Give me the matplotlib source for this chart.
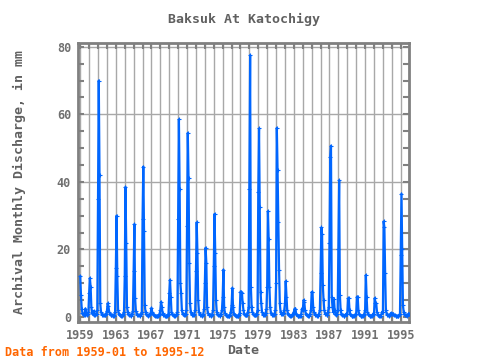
import matplotlib
matplotlib.use("Agg")
import matplotlib.pyplot as plt
from matplotlib.ticker import MultipleLocator
import numpy as np

title = "Baksuk At Katochigy"
ylabel = "Archival Monthly Discharge, in mm"
xlabel = "Date"
footer = "Data from 1959-01 to 1995-12"
start_year = 1959
end_year = 1995
tick_years = [1959, 1963, 1967, 1971, 1975, 1979, 1983, 1987, 1991, 1995]
y_ticks = [0, 20, 40, 60, 80]

# monthly discharge, one row per year (Jan..Dec)
discharge_mm = [
    12.0, 6.5, 2.5, 1.2, 0.8, 0.5, 0.6, 2.5, 1.0, 0.6, 0.9, 1.5,    # 1959
    7.0, 11.5, 9.0, 3.0, 1.2, 0.8, 1.8, 0.7, 0.5, 1.0, 0.8, 2.0,    # 1960
    35.0, 70.0, 42.0, 4.0, 1.5, 0.9, 0.7, 0.6, 0.5, 0.5, 0.7, 1.0,  # 1961
    1.8, 4.0, 3.2, 1.5, 1.0, 0.7, 0.6, 0.5, 0.4, 0.4, 0.6, 1.5,     # 1962
    14.5, 30.0, 12.0, 2.0, 1.0, 0.6, 0.5, 0.4, 0.4, 0.5, 0.9, 1.5,  # 1963
    12.0, 38.5, 22.0, 3.0, 1.5, 0.8, 0.6, 0.5, 0.4, 0.6, 1.0, 1.8,  # 1964
    13.5, 27.5, 5.5, 1.8, 1.0, 0.7, 0.5, 0.5, 0.4, 0.5, 0.8, 1.5,   # 1965
    29.0, 44.5, 25.5, 3.5, 1.5, 0.8, 0.6, 0.5, 0.4, 0.5, 0.8, 1.2,  # 1966
    2.7, 1.5, 1.0, 0.7, 0.5, 0.4, 0.4, 0.3, 0.3, 0.4, 0.6, 1.0,     # 1967
    2.0, 4.5, 3.0, 1.2, 0.7, 0.5, 0.4, 0.4, 0.3, 0.4, 0.6, 1.0,     # 1968
    7.0, 11.0, 6.0, 1.5, 0.8, 0.6, 0.5, 0.4, 0.4, 0.5, 0.8, 1.5,    # 1969
    29.0, 58.5, 38.0, 10.0, 7.0, 2.0, 1.0, 0.8, 0.6, 0.7, 1.0, 2.0, # 1970
    27.0, 54.5, 41.0, 16.0, 4.0, 1.5, 0.8, 0.6, 0.5, 0.6, 1.0, 2.0, # 1971
    13.5, 28.0, 19.0, 5.0, 1.5, 0.8, 0.6, 0.5, 0.4, 0.5, 1.0, 2.5,  # 1972
    10.0, 20.5, 16.0, 3.0, 1.2, 0.7, 0.5, 0.5, 0.4, 0.5, 0.9, 2.0,  # 1973
    15.0, 30.5, 19.0, 5.0, 1.5, 0.8, 0.6, 0.5, 0.4, 0.5, 1.0, 2.0,  # 1974
    6.0, 14.0, 3.0, 1.2, 0.7, 0.5, 0.4, 0.4, 0.3, 0.4, 0.7, 1.5,    # 1975
    3.5, 8.6, 3.0, 1.0, 0.6, 0.5, 0.4, 0.3, 0.3, 0.4, 0.6, 1.2,     # 1976
    7.5, 7.5, 7.0, 4.0, 2.0, 1.0, 0.7, 0.6, 0.5, 0.6, 1.5, 3.0,     # 1977
    38.0, 77.5, 9.0, 3.0, 1.5, 1.0, 0.7, 0.6, 0.5, 0.6, 1.0, 2.0,   # 1978
    37.0, 55.8, 32.5, 7.5, 4.0, 1.5, 1.0, 0.7, 0.6, 0.7, 1.2, 2.5,  # 1979
    9.0, 31.3, 23.0, 9.0, 3.0, 1.2, 0.8, 0.6, 0.5, 0.6, 1.0, 2.0,   # 1980
    10.0, 56.0, 43.5, 28.0, 14.0, 4.0, 1.5, 1.0, 0.8, 0.8, 1.2, 2.0,# 1981
    4.0, 10.6, 6.0, 2.0, 1.0, 0.7, 0.5, 0.4, 0.4, 0.5, 0.7, 1.0,    # 1982
    1.5, 2.5, 2.5, 1.0, 0.6, 0.4, 0.3, 0.3, 0.3, 0.4, 1.0, 2.5,     # 1983
    2.0, 5.0, 4.5, 2.0, 1.0, 0.6, 0.5, 0.4, 0.4, 0.5, 1.0, 2.0,     # 1984
    7.4, 7.4, 3.0, 1.5, 0.8, 0.6, 0.5, 0.4, 0.4, 0.5, 1.0, 2.0,     # 1985
    13.0, 26.5, 24.5, 9.4, 5.0, 2.0, 1.0, 0.8, 0.6, 0.7, 1.5, 3.0,  # 1986
    22.0, 47.5, 50.7, 6.0, 3.0, 1.5, 5.3, 2.0, 0.8, 0.7, 1.0, 2.0,  # 1987
    20.0, 40.5, 6.5, 2.0, 1.0, 0.7, 0.5, 0.4, 0.4, 0.5, 0.8, 1.0,   # 1988
    1.0, 5.5, 5.5, 2.0, 0.8, 0.5, 0.4, 0.3, 0.3, 0.4, 0.6, 0.8,     # 1989
    1.0, 6.0, 6.0, 2.0, 0.8, 0.5, 0.4, 0.3, 0.3, 0.4, 0.6, 1.0,     # 1990
    2.0, 12.4, 6.0, 1.5, 0.8, 0.5, 0.4, 0.3, 0.3, 0.4, 0.6, 1.0,    # 1991
    1.0, 5.6, 4.0, 4.0, 1.5, 0.7, 0.5, 0.4, 0.3, 0.4, 0.8, 1.5,     # 1992
    1.5, 28.3, 26.5, 13.0, 2.0, 1.0, 0.6, 0.5, 0.4, 0.5, 0.8, 1.2,  # 1993
    0.8, 1.0, 0.8, 0.6, 0.5, 0.4, 0.3, 0.3, 0.3, 0.3, 0.5, 1.0,     # 1994
    18.3, 36.5, 20.0, 3.4, 1.5, 0.8, 0.6, 0.5, 0.4, 0.5, 0.8, 1.0,  # 1995
]

n = len(discharge_mm)
t = start_year + np.arange(n) / 12.0

plt.rcParams['font.family'] = ['DejaVu Sans Mono']
plt.rcParams['font.weight'] = 'bold'

fig = plt.figure(figsize=(4.8, 3.6), dpi=100)
ax = fig.add_axes([78/480, 1 - 321.7/360, (409-78)/480, (321.7-42.7)/360])

gray = '#808080'
txt = '#707070'
gridc = '#a8a8a8'

ax.set_xlim(1958.75, 1995.93)
ax.set_ylim(-1.4, 81.2)

# grid lines (years and every 20 mm)
for yr in range(start_year, end_year + 1):
    ax.axvline(yr, color=gridc, lw=1.0, zorder=1)
for yv in y_ticks[1:]:
    ax.axhline(yv, color=gridc, lw=1.0, zorder=1)

ax.plot(t, discharge_mm, color='#0066ff', lw=1.6, marker='+', ms=3, mew=0.8, zorder=3)

ax.set_xticks(tick_years)
ax.xaxis.set_minor_locator(MultipleLocator(1))
ax.set_yticks(y_ticks)
ax.yaxis.set_minor_locator(MultipleLocator(5))
ax.tick_params(which='both', direction='in', top=True, right=True, color=gray,
               width=1.5, length=4, labelsize=8.5, labelcolor=txt, pad=5)
for s in ax.spines.values():
    s.set_color(gray)
    s.set_linewidth(2.0)

ax.set_title(title, fontsize=9.5, color='#606060', fontweight='bold', pad=14)
ax.set_xlabel(xlabel, fontsize=9.5, color='#606060', fontweight='bold', labelpad=2)
ax.set_ylabel(ylabel, fontsize=9.5, color='#606060', fontweight='bold', labelpad=22)
fig.text(5/480, 1 - 352/360, footer, fontsize=8.5, color='#ff6600',
         fontweight='bold', va='center', ha='left')

fig.savefig('out.png', dpi=100)
